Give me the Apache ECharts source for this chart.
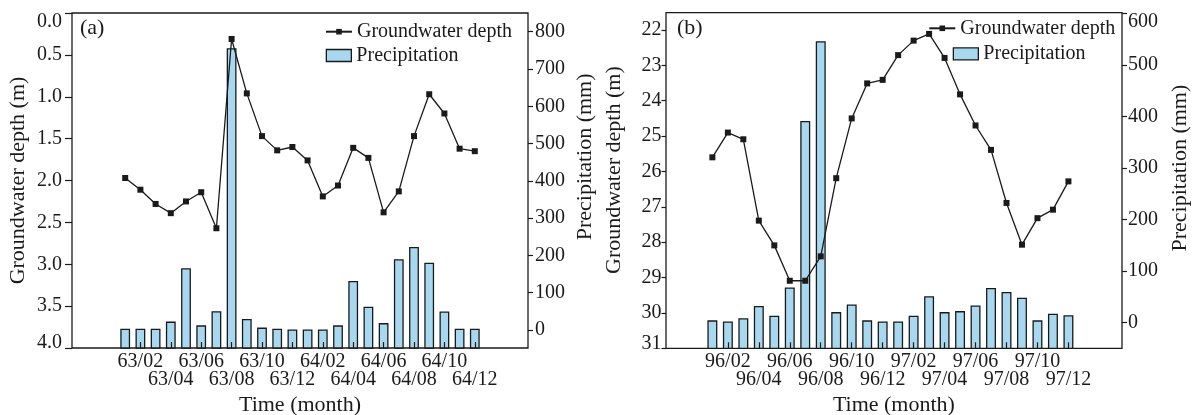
<!DOCTYPE html>
<html>
<head>
<meta charset="utf-8">
<script src="https://cdn.jsdelivr.net/npm/echarts@6/dist/echarts.min.js"></script>
<style>
html,body{margin:0;padding:0;background:#fff;}
#chart{width:1192px;height:415px;}
</style>
</head>
<body>
<div id="chart"></div>
<script>
// ---- data ----
const monthsA = ['63/01','63/02','63/03','63/04','63/05','63/06','63/07','63/08','63/09','63/10','63/11','63/12',
                 '64/01','64/02','64/03','64/04','64/05','64/06','64/07','64/08','64/09','64/10','64/11','64/12'];
const depthA = [1.97, 2.11, 2.28, 2.39, 2.25, 2.14, 2.57, 0.31, 0.96, 1.47, 1.64, 1.60,
                1.76, 2.19, 2.06, 1.61, 1.73, 2.38, 2.13, 1.47, 0.97, 1.20, 1.62, 1.65];
const precipA = [2, 2, 2, 21, 164, 11, 49, 754, 28, 5, 2, 0,
                 0, 0, 11, 130, 61, 17, 188, 221, 179, 48, 2, 2];

const monthsB = ['96/01','96/02','96/03','96/04','96/05','96/06','96/07','96/08','96/09','96/10','96/11','96/12',
                 '97/01','97/02','97/03','97/04','97/05','97/06','97/07','97/08','97/09','97/10','97/11','97/12'];
const depthB = [25.60, 24.90, 25.09, 27.39, 28.09, 29.09, 29.09, 28.40, 26.19, 24.50, 23.51, 23.41,
                22.71, 22.30, 22.11, 22.79, 23.82, 24.70, 25.39, 26.89, 28.07, 27.32, 27.08, 26.28];
const precipB = [3, 1, 7, 31, 12, 67, 390, 545, 19, 34, 3, 1,
                 1, 12, 50, 19, 21, 32, 66, 58, 47, 3, 16, 13];

const depthTicksA = [0, 4, 0.5];      // min, max, step
const precipTicksA = [0, 800, 100];
const depthTicksB = [22, 31, 1];
const precipTicksB = [0, 600, 100];

// ---- styling ----
const FONT = '"Liberation Serif", "Times New Roman", serif';
const INK = '#1a1a1a';
const BAR_FILL = '#a8d8ef';
const TICK_FS = 20;

function padCats(months) {
  return ['p-3','p-2','p-1'].concat(months, ['p+1','p+2','p+3']);
}
const catsA = padCats(monthsA);
const catsB = padCats(monthsB);

function monthNum(v) {
  if (typeof v !== 'string' || v.indexOf('/') < 0) return -1;
  return +v.split('/')[1];
}
function isEvenMonth(v) { const m = monthNum(v); return m > 0 && m % 2 === 0; }
function isRow1(v) { const m = monthNum(v); return m > 0 && m % 4 === 2; }
function isRow2(v) { const m = monthNum(v); return m > 0 && m % 4 === 0; }

function barItem(params, api) {
  const pt = api.coord([api.value(0), api.value(1)]);
  const cs = params.coordSys;
  const base = cs.y + cs.height;
  const w = api.size([1, 0])[0] * 0.56;
  return {
    type: 'rect',
    shape: { x: pt[0] - w / 2, y: pt[1], width: w, height: base - pt[1] },
    style: { fill: BAR_FILL, stroke: INK, lineWidth: 1.3 }
  };
}

const richBase = { fontSize: TICK_FS, fontFamily: FONT, color: INK, lineHeight: 20 };

function xAxisRow1(gridIndex, cats, namePad) {
  return {
    type: 'category', gridIndex: gridIndex, data: cats, boundaryGap: true, z: 10,
    position: 'bottom',
    axisLine: { show: false, onZero: false },
    axisTick: { show: true, inside: true, length: 6, alignWithLabel: true,
                interval: function (i, v) { return isEvenMonth(v); },
                lineStyle: { color: INK, width: 1.2 } },
    axisLabel: { show: true, interval: function (i, v) { return isRow1(v); },
                 hideOverlap: false, margin: 4.5,
                 fontSize: TICK_FS, fontFamily: FONT, color: INK, lineHeight: 18 },
    splitLine: { show: false },
    name: 'Time (month)', nameLocation: 'middle', nameGap: 46,
    nameTextStyle: { fontSize: 22, fontFamily: FONT, color: INK, padding: namePad }
  };
}
function xAxisRow2(gridIndex, cats) {
  return {
    type: 'category', gridIndex: gridIndex, data: cats, boundaryGap: true, z: 10,
    position: 'bottom',
    axisLine: { show: false, onZero: false },
    axisTick: { show: false },
    axisLabel: { show: true, interval: function (i, v) { return isRow2(v); },
                 hideOverlap: false, margin: 22.8,
                 fontSize: TICK_FS, fontFamily: FONT, color: INK, lineHeight: 18 },
    splitLine: { show: false }
  };
}
function xAxisHidden(gridIndex, cats) {
  return { type: 'category', gridIndex: gridIndex, data: cats, boundaryGap: true, show: false,
           axisLine: { onZero: false } };
}
function gridBox(l, t, w, h, framed) {
  const g = { left: l, top: t, width: w, height: h, containLabel: false, outerBoundsMode: 'none' };
  if (framed) {
    g.show = true; g.borderColor = INK; g.borderWidth = 1.3; g.backgroundColor = 'transparent';
  }
  return g;
}

const option = {
  animation: false,
  backgroundColor: '#fff',
  grid: [
    gridBox(72, 13, 456, 335, true),
    gridBox(72, 31.7, 456, 298.3, false),
    gridBox(666, 12.7, 456, 335.6, true),
    gridBox(658.2, 12.7, 464.4, 335.6, false),
    gridBox(658.2, 30, 464.4, 318.3, false),
    gridBox(666, 13.5, 456, 309.2, false)
  ],
  xAxis: [
    xAxisRow1(0, catsA, [0, 0, 0, 0]),
    xAxisHidden(1, catsA),
    xAxisHidden(2, catsB),
    xAxisRow1(3, catsB, [0, 0, 0, 7]),
    xAxisHidden(4, catsB),
    xAxisHidden(5, catsB),
    xAxisRow2(0, catsA),
    xAxisRow2(3, catsB)
  ],
  yAxis: [
    { // 0: panel a depth
      type: 'value', gridIndex: 0, position: 'left', inverse: true,
      min: depthTicksA[0], max: depthTicksA[1], interval: depthTicksA[2],
      axisLine: { show: false, onZero: false },
      axisTick: { show: true, length: 7, lineStyle: { color: INK, width: 1.2 } },
      splitLine: { show: false },
      axisLabel: {
        margin: 10, fontSize: TICK_FS, fontFamily: FONT, color: INK,
        formatter: function (v) {
          if (v === 0) return '{t|0.0}';
          if (v === 4) return '{b|4.0}';
          return v.toFixed(1);
        },
        rich: {
          t: Object.assign({ padding: [18, 0, 0, 0] }, richBase),
          b: Object.assign({ padding: [0, 0, 10, 0] }, richBase)
        }
      },
      name: 'Groundwater depth (m)', nameLocation: 'middle', nameGap: 43,
      nameTextStyle: { fontSize: 22, fontFamily: FONT, color: INK }
    },
    { // 1: panel a bars (hidden)
      type: 'value', gridIndex: 0, position: 'right', min: -48, max: 850, show: false,
      axisLine: { onZero: false }
    },
    { // 2: panel a precip visible axis
      type: 'value', gridIndex: 1, position: 'right',
      min: precipTicksA[0], max: precipTicksA[1], interval: precipTicksA[2],
      axisLine: { show: false, onZero: false },
      axisTick: { show: true, length: 5, lineStyle: { color: INK, width: 1.2 } },
      splitLine: { show: false },
      axisLabel: { margin: 7, fontSize: TICK_FS, fontFamily: FONT, color: INK },
      name: 'Precipitation (mm)', nameLocation: 'middle', nameGap: 46,
      nameTextStyle: { fontSize: 22, fontFamily: FONT, color: INK, padding: [0, 0, 0, 48] }
    },
    { type: 'value', gridIndex: 2, show: false, axisLine: { onZero: false } },
    { // 4: panel b bars (hidden)
      type: 'value', gridIndex: 3, position: 'right', min: -50, max: 601.5, show: false,
      axisLine: { onZero: false }
    },
    { // 5: panel b depth
      type: 'value', gridIndex: 4, position: 'left', inverse: true, offset: -7.8,
      min: depthTicksB[0], max: depthTicksB[1], interval: depthTicksB[2],
      axisLine: { show: false, onZero: false },
      axisTick: { show: true, length: 4.5, lineStyle: { color: INK, width: 1.2 } },
      splitLine: { show: false },
      axisLabel: {
        margin: 4.5, fontSize: TICK_FS, fontFamily: FONT, color: INK,
        formatter: function (v) { return v === 31 ? '{b|31}' : String(v); },
        rich: { b: Object.assign({ padding: [0, 0, 10, 0] }, richBase) }
      },
      name: 'Groundwater depth (m)', nameLocation: 'middle', nameGap: 41,
      nameTextStyle: { fontSize: 22, fontFamily: FONT, color: INK, padding: [0, 0, 0, 38] }
    },
    { // 6: panel b precip visible axis
      type: 'value', gridIndex: 5, position: 'right',
      min: precipTicksB[0], max: precipTicksB[1], interval: precipTicksB[2],
      axisLine: { show: false, onZero: false },
      axisTick: { show: true, length: 5, lineStyle: { color: INK, width: 1.2 } },
      splitLine: { show: false },
      axisLabel: {
        margin: 6, fontSize: TICK_FS, fontFamily: FONT, color: INK,
        formatter: function (v) { return v === 600 ? '{t|600}' : String(v); },
        rich: { t: Object.assign({ padding: [16, 0, 0, 0] }, richBase) }
      },
      name: 'Precipitation (mm)', nameLocation: 'middle', nameGap: 47,
      nameTextStyle: { fontSize: 22, fontFamily: FONT, color: INK }
    }
  ],
  legend: [
    { data: ['Groundwater depth'], left: 325, top: 21.7, padding: 0, itemWidth: 26, itemHeight: 7,
      textStyle: { fontSize: 20, fontFamily: FONT, color: INK, lineHeight: 20 } },
    { data: [{ name: 'Precipitation', icon: 'rect', itemStyle: { color: BAR_FILL, borderColor: INK, borderWidth: 1.3 } }],
      left: 325.7, top: 45.5, padding: 0, itemWidth: 25, itemHeight: 12,
      textStyle: { fontSize: 20, fontFamily: FONT, color: INK, lineHeight: 20 } },
    { data: ['Groundwater depth'], left: 928.3, top: 18.3, padding: 0, itemWidth: 26, itemHeight: 7,
      textStyle: { fontSize: 20, fontFamily: FONT, color: INK, lineHeight: 20 } },
    { data: [{ name: 'Precipitation', icon: 'rect', itemStyle: { color: BAR_FILL, borderColor: INK, borderWidth: 1.3 } }],
      left: 952.7, top: 43.8, padding: 0, itemWidth: 25, itemHeight: 12,
      textStyle: { fontSize: 20, fontFamily: FONT, color: INK, lineHeight: 20 } }
  ],
  graphic: [
    { type: 'text', left: 80, top: 17, z: 100, style: { text: '(a)', font: '22px ' + FONT, fill: INK } },
    { type: 'text', left: 677, top: 17, z: 100, style: { text: '(b)', font: '22px ' + FONT, fill: INK } }
  ],
  series: [
    { name: 'Precipitation', type: 'custom', xAxisIndex: 0, yAxisIndex: 1, z: 2,
      itemStyle: { color: BAR_FILL, borderColor: INK },
      renderItem: barItem,
      data: monthsA.map(function (m, i) { return [m, precipA[i]]; }) },
    { name: 'Groundwater depth', type: 'line', xAxisIndex: 0, yAxisIndex: 0, z: 5,
      symbol: 'rect', symbolSize: 6,
      itemStyle: { color: INK }, lineStyle: { color: INK, width: 1.3 },
      data: monthsA.map(function (m, i) { return [m, depthA[i]]; }) },
    { name: 'Precipitation', type: 'custom', xAxisIndex: 3, yAxisIndex: 4, z: 2,
      itemStyle: { color: BAR_FILL, borderColor: INK },
      renderItem: barItem,
      data: monthsB.map(function (m, i) { return [m, precipB[i]]; }) },
    { name: 'Groundwater depth', type: 'line', xAxisIndex: 4, yAxisIndex: 5, z: 5,
      symbol: 'rect', symbolSize: 6,
      itemStyle: { color: INK }, lineStyle: { color: INK, width: 1.3 },
      data: monthsB.map(function (m, i) { return [m, depthB[i]]; }) }
  ]
};

const chart = echarts.init(document.getElementById('chart'), null, { renderer: 'canvas' });
chart.setOption(option);
</script>
</body>
</html>
